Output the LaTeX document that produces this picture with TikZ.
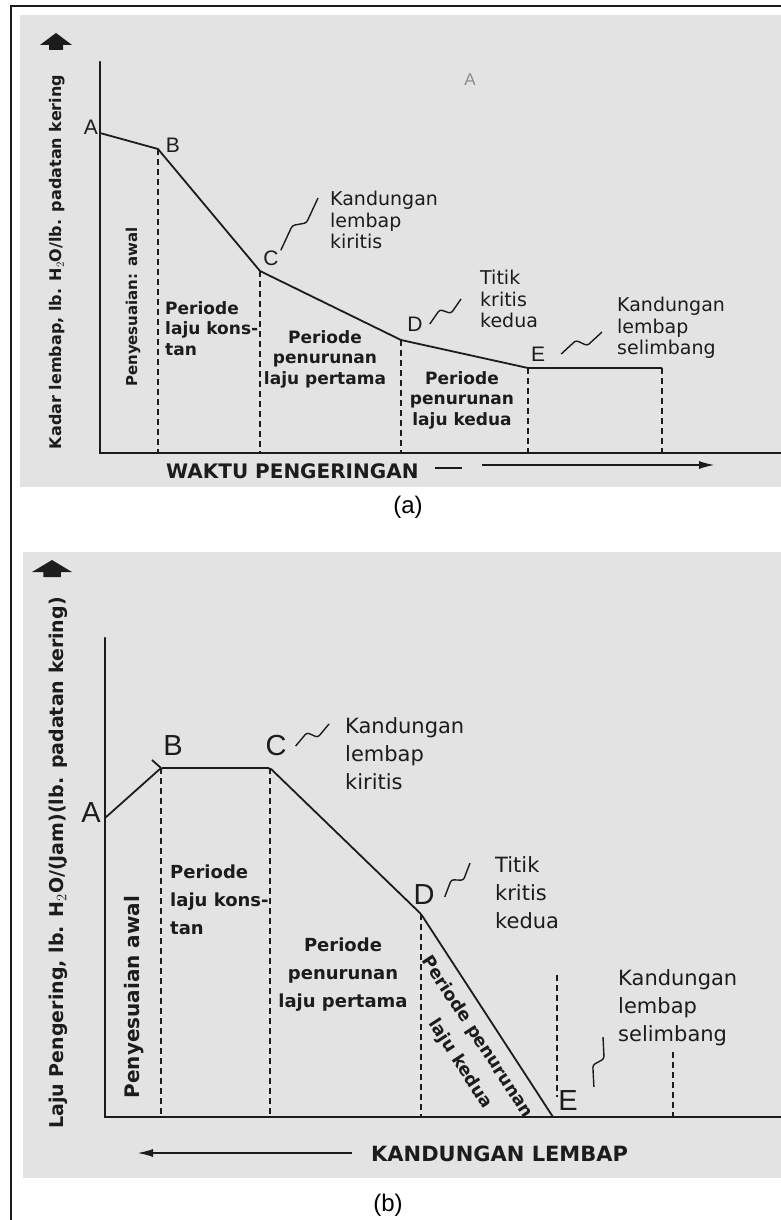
\documentclass[tikz,border=0pt]{standalone}
\usepackage{fontspec}
\setmainfont{DejaVu Sans}
\newfontfamily\letterfont{Liberation Sans}
\usetikzlibrary{arrows.meta,calc}
\definecolor{ink}{HTML}{1C1C1C}
\definecolor{scan}{HTML}{E3E3E3}
\definecolor{faint}{HTML}{8C8C8C}

\begin{document}
\begin{tikzpicture}[x=1pt,y=-1pt,
    % --- axes, curve, drop lines ------------------------------------
    axis/.style={draw=ink,line width=2.2pt,line cap=round},
    curve/.style={draw=ink,line width=1.8pt,line join=round},
    drop/.style={draw=ink,line width=1.6pt,dash pattern=on 6pt off 4pt},
    axarr/.style={draw=ink,line width=2pt,-{Latex[length=16pt,width=8pt]}},
    % --- squiggle leaders -------------------------------------------
    zz/.style={draw=ink,line width=1.4pt,rounded corners=2.5pt,
               to path={-- ($(\tikztostart)!0.42!(\tikztotarget)!5pt!90:(\tikztotarget)$)
                        -- ($(\tikztostart)!0.58!(\tikztotarget)!5pt!-90:(\tikztotarget)$)
                        -- (\tikztotarget)}},
    % --- texts --------------------------------------------------------
    ptlbl/.style={text=ink,inner sep=0pt},
    ptla/.style={ptlbl,font=\letterfont\fontsize{21}{21}\selectfont},
    ptlb/.style={ptlbl,font=\letterfont\fontsize{29}{29}\selectfont},
    note/.style={text=ink,inner sep=0pt,align=left,anchor=north west},
    notea/.style={note,font=\fontsize{19}{21.5}\selectfont},
    noteb/.style={note,font=\fontsize{21}{28}\selectfont},
    per/.style={text=ink,inner sep=0pt,font=\bfseries},
    pera/.style={per,font=\bfseries\fontsize{17}{20.5}\selectfont},
    perb/.style={per,font=\bfseries\fontsize{18}{28}\selectfont},
    ttl/.style={text=ink,inner sep=0pt},
    capt/.style={inner sep=0pt,font=\letterfont\fontsize{24}{24}\selectfont},
    uparr/.pic={\fill[ink] (-16,12) -- (0,0) -- (16,12) -- (7,12) -- (7,17)
                          -- (-7,17) -- (-7,12) -- cycle;},
  ]
\useasboundingbox (0,0) rectangle (781,1220);

% ---- scanned photo grounds and page frame ----------------------------
\fill[scan] (20,15) rectangle (785,487);
\fill[scan] (23,552) rectangle (785,1178);
\draw[ink,line width=1.6pt] (11,1225) -- (11,6) -- (785,6);

% =====================================================================
%  (a)  moisture content against drying time
% =====================================================================
\coordinate (oa) at (100,453);
\coordinate (ya) at (100,62);
\coordinate (xa) at (785,453);
\draw[axis] (ya) -- (oa) -- (xa);
\pic at (56,33) {uparr};

\coordinate (aA) at (100,133);
\coordinate (aB) at (158,149);
\coordinate (aC) at (260,271);
\coordinate (aD) at (401,340);
\coordinate (aE) at (528,368);
\coordinate (aF) at (662,368);
\draw[curve] (aA) -- (aB) -- (aC) -- (aD) -- (aE) -- (aF);
\foreach \p in {B,C,D,E,F} \draw[drop] (a\p) -- (a\p |- oa);

% ---- point letters ----------------------------------------------------
\node[ptla] (laA) at (91,127) {A};
\node[ptla] (laB) at (173,145) {B};
\node[ptla] (laC) at (271,258) {C};
\node[ptla] (laD) at (415,324) {D};
\node[ptla] (laE) at (538,354) {E};
\node[ptlbl,text=faint,font=\letterfont\fontsize{17}{17}\selectfont] (stray) at (470,80) {A};

% ---- notes with leaders ----------------------------------------------
\node[notea] (naC) at (330,191) {Kandungan\\lembap\\kiritis};
\node[notea] (naD) at (480,270) {Titik\\kritis\\kedua};
\node[notea] (naE) at (617,297) {Kandungan\\lembap\\selimbang};
\draw[zz] ([xshift=2pt]laC.north east) to ([xshift=-12pt,yshift=-7pt]naC.north west);
\draw[zz] ([xshift=7pt]laD.east) to ([xshift=-19pt]naD.west);
\draw[zz] ([xshift=16pt]laE.east) to ([xshift=-15pt,yshift=-35pt]naE.north west);

% ---- period labels ----------------------------------------------------
\node[pera,rotate=90,font=\bfseries\fontsize{15}{15}\selectfont] (pa0) at (133,307) {Penyesuaian: awal};
\node[pera,align=left,anchor=north west] (pa1) at (165,301) {Periode\\laju kons-\\tan};
\node[pera,align=center,anchor=north] (pa2) at (325,330) {Periode\\penurunan\\laju pertama};
\node[pera,align=center,anchor=north] (pa3) at (462,371) {Periode\\penurunan\\laju kedua};

% ---- axis titles --------------------------------------------------------
\node[ttl,rotate=90,font=\bfseries\fontsize{16}{16}\selectfont] (tya) at (57,262)
     {Kadar lembap, lb. H$_2$O/lb. padatan kering};
\node[ttl,anchor=west,font=\bfseries\fontsize{20}{20}\selectfont] (txa) at (166,471)
     {WAKTU PENGERINGAN};
\coordinate (da0) at (435,468);
\coordinate (da1) at (462,468);
\draw[draw=ink,line width=2pt] (da0) -- (da1);
\coordinate (xa0) at (482,465);
\coordinate (xa1) at (715,465);
\draw[axarr] (xa0) -- (xa1);

\node[capt] (capa) at (408,507) {(a)};

% =====================================================================
%  (b)  drying rate against moisture content
% =====================================================================
\coordinate (ob) at (105,1117);
\coordinate (yb) at (105,638);
\coordinate (xb) at (785,1117);
\draw[axis] (yb) -- (ob) -- (xb);
\pic[xscale=1.25] at (52,560) {uparr};

\coordinate (bA) at (105,818);
\coordinate (bB) at (161,768);
\coordinate (bC) at (270,768);
\coordinate (bD) at (421,914);
\coordinate (bE) at (553,1117);
\draw[curve,rounded corners=2pt] (bA) -- (bB) -- (bC) -- (bD) -- (bE);
\draw[curve] (bB) -- ++(-9,-8);
\foreach \p in {B,C,D} \draw[drop] (b\p) -- (b\p |- ob);
\coordinate (e0) at (557,975);
\coordinate (e1) at (557,1097);
\draw[drop] (e0) -- (e1);
\coordinate (f0) at (673,1052);
\draw[drop] (f0) -- (f0 |- ob);

% ---- point letters ----------------------------------------------------
\node[ptlb] (lbA) at (91,813) {A};
\node[ptlb] (lbB) at (173,746) {B};
\node[ptlb] (lbC) at (276,746) {C};
\node[ptlb] (lbD) at (424,895) {D};
\node[ptlb] (lbE) at (568,1101) {E};

% ---- notes with leaders ----------------------------------------------
\node[noteb] (nbC) at (345,717) {Kandungan\\lembap\\kiritis};
\node[noteb] (nbD) at (495,856) {Titik\\kritis\\kedua};
\node[noteb] (nbE) at (618,969) {Kandungan\\lembap\\selimbang};
\draw[zz] ([xshift=9pt]lbC.east) to ([xshift=-16pt,yshift=-7pt]nbC.north west);
\draw[zz] ([xshift=10pt,yshift=-2pt]lbD.east) to ([xshift=-25pt,yshift=-7pt]nbD.north west);
\draw[zz] ([xshift=16pt,yshift=4pt]lbE.north east) to ([xshift=-15pt,yshift=-68pt]nbE.north west);

% ---- period labels ----------------------------------------------------
\node[perb,rotate=90,font=\bfseries\fontsize{20}{20}\selectfont] (pb0) at (134,997) {Penyesuaian awal};
\node[perb,align=left,anchor=north west] (pb1) at (170,865) {Periode\\laju kons-\\tan};
\node[perb,align=center,anchor=north] (pb2) at (343,938) {Periode\\penurunan\\laju pertama};
\node[perb,rotate=-57,font=\bfseries\fontsize{17.5}{17.5}\selectfont] (pb3) at (477,1037) {Periode penurunan};
\node[perb,rotate=-57,font=\bfseries\fontsize{17.5}{17.5}\selectfont] (pb4) at (460,1064) {laju kedua};

% ---- axis titles --------------------------------------------------------
\node[ttl,rotate=90,font=\bfseries\fontsize{19}{19}\selectfont] (tyb) at (58,863)
     {Laju Pengering, lb. H$_2$O/(Jam)(lb. padatan kering)};
\node[ttl,anchor=west,font=\bfseries\fontsize{21}{21}\selectfont] (txb) at (371,1154)
     {KANDUNGAN LEMBAP};
\coordinate (xb0) at (352,1153);
\coordinate (xb1) at (137,1153);
\draw[axarr] (xb0) -- (xb1);

\node[capt] (capb) at (388,1205) {(b)};

\end{tikzpicture}
\end{document}
